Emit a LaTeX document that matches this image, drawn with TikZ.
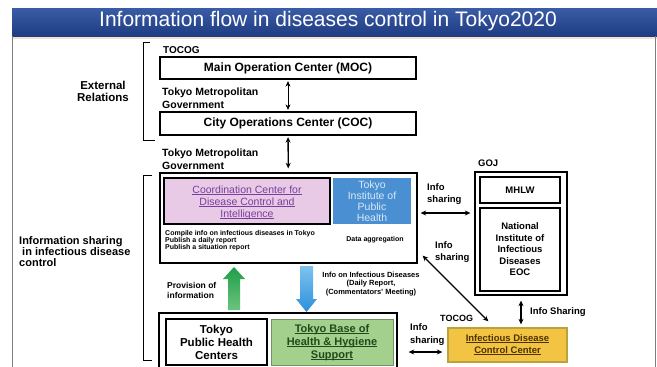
\documentclass[tikz,border=0pt]{standalone}
\usepackage{fontspec}
\setmainfont{Liberation Sans}
\usetikzlibrary{arrows.meta,calc}
\definecolor{bartop}{HTML}{3A5BA6}
\definecolor{barbottom}{HTML}{1F3C82}
\definecolor{barline}{HTML}{EFE3CF}
\definecolor{framegray}{HTML}{7F7F7F}
\definecolor{pinkfill}{HTML}{E8C9E6}
\definecolor{purpletext}{HTML}{7A3F9C}
\definecolor{tiphblue}{HTML}{4A8FD2}
\definecolor{basegreen}{HTML}{A3D08C}
\definecolor{basetext}{HTML}{1F4A1A}
\definecolor{idccfill}{HTML}{F3C443}
\definecolor{idccline}{HTML}{B9A33A}
\definecolor{idcctext}{HTML}{4D3300}
\definecolor{upgreen}{HTML}{1F9E48}
\definecolor{upgreenlight}{HTML}{6CC47E}
\definecolor{downblue}{HTML}{7EC3EE}
\definecolor{downbluedark}{HTML}{2B8FDC}
\newcommand{\fs}[2]{\fontsize{#1}{#2}\selectfont}
\newcommand{\uln}[1]{\underline{\smash{#1}}}

\begin{document}
\begin{tikzpicture}[x=1pt, y=-1pt,
  frame/.style={draw, line width=1.3pt, inner sep=0pt},
  lbl/.style={font=\bfseries\fs{9.5}{12.5}, align=center, inner sep=0pt},
  link/.style={{Stealth[length=5.5pt,width=5pt]}-{Stealth[length=5.5pt,width=5pt]}, line width=1.1pt}]
  \useasboundingbox (0,0) rectangle (657,367);
  \clip (0,0) rectangle (657,367);
  \fill[white] (0,0) rectangle (657,367);

  % title bar and page frame
  \shade[top color=bartop, bottom color=barbottom] (12,8) rectangle (657,36);
  \node[text=white, font=\fs{21}{21}] (title) at (328,21) {Information flow in diseases control in Tokyo2020};
  \draw[barline, line width=2pt] (12,37.5) -- (657,37.5);
  \draw[framegray, line width=0.8pt] (12,36) -- (12,367);
  \draw[framegray, line width=0.8pt] (655,36) -- (655,367);

  % external relations
  \node[lbl, font=\bfseries\fs{11.5}{12}] (extrel) at (103,91) {External\\Relations};
  \draw[line width=1pt] (150,42) -- (143,42) -- (143,140) -- (155,140);
  \node[lbl, anchor=west, font=\bfseries\fs{10}{10}] (tocog) at (163,50) {TOCOG};
  \node[frame, minimum width=256pt, minimum height=22pt, font=\bfseries\fs{12}{12}] (moc) at (288,68) {Main Operation Center (MOC)};
  \node[lbl, align=left, anchor=west, font=\bfseries\fs{10.5}{12.5}] (tmg1) at (162,98) {Tokyo Metropolitan\\Government};
  \node[frame, minimum width=256pt, minimum height=23pt, font=\bfseries\fs{12}{12}] (coc) at (288,123.5) {City Operations Center (COC)};
  \draw[link, line width=0.8pt, shorten <=1.5pt, shorten >=1.5pt] (moc) -- (coc);
  \node[lbl, align=left, anchor=west, font=\bfseries\fs{10.5}{12.5}] (tmg2) at (162,159) {Tokyo Metropolitan\\Government};

  % information sharing in infectious disease control
  \node[lbl, align=left, anchor=west, font=\bfseries\fs{11}{11}] (infoshare) at (19,252) {Information sharing\\\hspace*{3pt}in infectious disease\\control};
  \draw[line width=1pt] (152,175) -- (143,175) -- (143,360) -- (152,360);
  \node[frame, minimum width=257pt, minimum height=90pt] (tmg) at (288.5,218) {};
  \draw[link, line width=1.3pt, shorten <=1.5pt, shorten >=4pt] (coc) -- (tmg);
  \node[frame, fill=pinkfill, minimum width=166pt, minimum height=46pt] (ccdc) at (247,201) {};
  \node[inner sep=0pt, text=purpletext, align=center, font=\fs{10.5}{12}] (ccdctext) at ($(ccdc)+(0,5)$) {\uln{Coordination Center for}\\\uln{Disease Control and}\\\uln{Intelligence}};
  \node[fill=tiphblue, minimum width=78pt, minimum height=46pt, inner sep=0pt, text=white!80!tiphblue, align=center, font=\fs{10.5}{11}] (tiph) at (372,201) {Tokyo\\Institute of\\Public\\Health};
  \node[lbl, align=left, anchor=north west, font=\bfseries\fs{7}{6.9}] (tasks) at (165,230.5) {Compile info on infectious diseases in Tokyo\\Publish a daily report\\Publish a situation report};
  \node[lbl, font=\bfseries\fs{7}{7}] (agg) at (375,240) {Data aggregation};

  % flows between the Metropolitan Government levels
  \shade[top color=upgreen, bottom color=upgreenlight] (228,310) -- (228,279) -- (223,279) -- (234,267) -- (245,279) -- (240,279) -- (240,310) -- cycle;
  \shade[top color=downblue, bottom color=downbluedark] (300,266) -- (300,299) -- (296,299) -- (306.5,312) -- (317,299) -- (313,299) -- (313,266) -- cycle;
  \node[lbl, align=left, anchor=west, font=\bfseries\fs{8.5}{10}] (prov) at (167,290) {Provision of\\information};
  \node[lbl, font=\bfseries\fs{7.5}{8.3}] (dailyinfo) at (371,284) {Info on Infectious Diseases\\(Daily Report,\\(Commentators' Meeting)};
  \node[frame, minimum width=238pt, minimum height=60pt] (lower) at (278,343) {};
  \node[frame, fill=white, minimum width=101pt, minimum height=46pt, align=center, font=\bfseries\fs{11.5}{13}] (phc) at (216.5,342) {Tokyo\\Public Health\\Centers};
  \node[draw=basegreen!70!black, line width=0.8pt, fill=basegreen, minimum width=122pt, minimum height=46pt] (base) at (332,342) {};
  \node[inner sep=0pt, text=basetext, align=center, font=\bfseries\fs{11}{13}] (basetext) at ($(base)+(0,4)$) {\uln{Tokyo Base of}\\\uln{Health \& Hygiene}\\\uln{Support}};

  % government of Japan
  \node[lbl, anchor=west, font=\bfseries\fs{9.5}{9.5}] (gojlbl) at (478,163) {GOJ};
  \node[frame, minimum width=92pt, minimum height=123pt] (goj) at (521,233.5) {};
  \node[frame, minimum width=80pt, minimum height=26pt, font=\bfseries\fs{9.5}{9.5}] (mhlw) at (520,190) {MHLW};
  \node[frame, minimum width=80pt, minimum height=83pt, align=center, font=\bfseries\fs{9.5}{11.5}] (niid) at (520,249.5) {National\\Institute of\\Infectious\\Diseases\\EOC};

  % TOCOG control center
  \node[lbl, anchor=west, font=\bfseries\fs{9}{9}] (tocog2) at (440,318) {TOCOG};
  \node[draw=idccline, line width=1.3pt, fill=idccfill, minimum width=119pt, minimum height=34pt] (idcc) at (507.5,345) {};
  \node[inner sep=0pt, text=idcctext, align=center, font=\bfseries\fs{9.5}{12}] (idcctext) at ($(idcc)+(0,3)$) {\uln{Infectious Disease}\\\uln{Control Center}};

  % info sharing links
  \coordinate (gojlink) at ($(tmg.east)+(0,-5)$);
  \draw[link, shorten <=3pt, shorten >=4pt] (gojlink) -- (gojlink -| goj.west);
  \node[lbl, align=left, anchor=west] (share1) at (427,194) {Info\\sharing};
  \draw[link] ($(tmg.south east)+(5,-8)$) -- ($(idcc.north west)+(41,-6)$);
  \node[lbl, align=left, anchor=west] (share2) at (435,252) {Info\\sharing};
  \draw[link, shorten <=5pt, shorten >=3pt] (goj.south) -- (goj.south |- idcc.north);
  \node[lbl, anchor=west] (share3) at (530,312) {Info Sharing};
  \coordinate (baselink) at ($(idcc.west)+(0,7)$);
  \draw[link, shorten <=5pt, shorten >=11pt] (baselink) -- (baselink -| lower.east);
  \node[lbl, align=left, anchor=west] (share4) at (410,334.5) {Info\\sharing};
\end{tikzpicture}
\end{document}
